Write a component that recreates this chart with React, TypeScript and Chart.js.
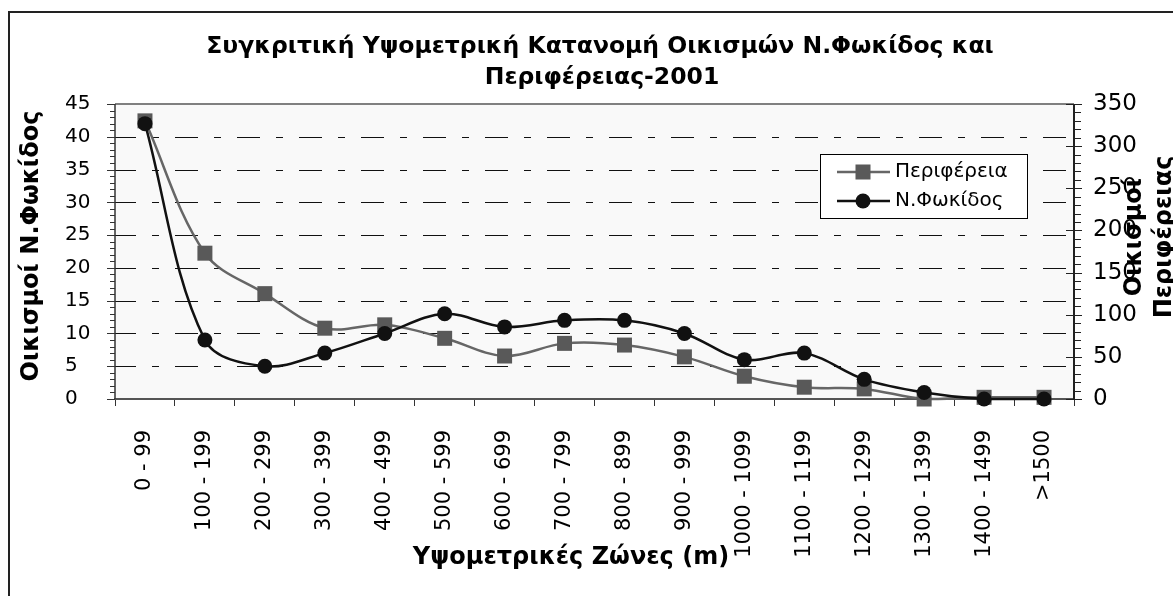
import React, { useEffect, useRef } from 'react';
import { Chart, registerables } from 'chart.js';

Chart.register(...registerables);

const categories = [
  '0 - 99', '100 - 199', '200 - 299', '300 - 399', '400 - 499', '500 - 599',
  '600 - 699', '700 - 799', '800 - 899', '900 - 999', '1000 - 1099',
  '1100 - 1199', '1200 - 1299', '1300 - 1399', '1400 - 1499', '>1500',
];
const peripheriaValues = [330, 173, 125, 84, 88, 72, 51, 66, 64, 50, 27, 14, 12, 0, 2, 2];
const fokidosValues = [42, 9, 5, 7, 10, 13, 11, 12, 12, 10, 6, 7, 3, 1, 0, 0];
const seriesNames = ['Περιφέρεια', 'Ν.Φωκίδος'];
const leftAxisRange = [0, 45, 5];
const rightAxisRange = [0, 350, 50];
const titleLines = ['Συγκριτική Υψομετρική Κατανομή Οικισμών Ν.Φωκίδος και', 'Περιφέρειας-2001'];
const leftAxisTitle = 'Οικισμοί Ν.Φωκίδος';
const rightAxisTitle = ['Οικισμοί', 'Περιφέρειας'];
const xAxisTitle = 'Υψομετρικές Ζώνες (m)';

const FONT = "'DejaVu Sans', Verdana, sans-serif";
const GRAY_LINE = '#666666';
const GRAY_MARK = '#595959';
const BLACK = '#111111';

export default function App() {
  const ref = useRef<HTMLCanvasElement>(null);

  useEffect(() => {
    const canvas = ref.current;
    if (!canvas) return;

    const line = (ctx: CanvasRenderingContext2D, x1: number, y1: number, x2: number, y2: number) => {
      ctx.beginPath();
      ctx.moveTo(x1, y1);
      ctx.lineTo(x2, y2);
      ctx.stroke();
    };

    const decor = {
      id: 'decor',
      beforeDraw(chart: any) {
        const { ctx, chartArea: a, width, height } = chart;
        ctx.save();
        ctx.fillStyle = '#ffffff';
        ctx.fillRect(0, 0, width, height);
        ctx.fillStyle = '#222222';
        ctx.fillRect(0, 0, width, 2);
        ctx.fillRect(0, 0, 2, height);
        ctx.fillStyle = '#f9f9f9';
        ctx.fillRect(a.left, a.top, a.right - a.left, a.bottom - a.top);
        ctx.restore();
      },
      beforeDatasetsDraw(chart: any) {
        const { ctx, chartArea: a, scales } = chart;
        const y = scales.y;
        const y1 = scales.y1;
        ctx.save();
        ctx.strokeStyle = '#111111';
        ctx.lineWidth = 1;
        ctx.setLineDash([23, 16, 7, 16]);
        ctx.lineDashOffset = 2;
        for (const t of y.ticks) {
          if (t.value <= leftAxisRange[0] || t.value >= leftAxisRange[1]) continue;
          const py = Math.round(y.getPixelForValue(t.value)) + 0.5;
          line(ctx, a.left, py, a.right, py);
        }
        ctx.setLineDash([]);
        ctx.strokeStyle = '#808080';
        ctx.lineWidth = 2;
        line(ctx, a.left, a.top, a.right, a.top);
        ctx.strokeStyle = '#555555';
        ctx.lineWidth = 2;
        line(ctx, a.left - 1, a.bottom, a.right + 1, a.bottom);
        ctx.strokeStyle = '#333333';
        ctx.lineWidth = 1.5;
        line(ctx, a.left, a.top, a.left, a.bottom);
        ctx.lineWidth = 1;
        for (let v = leftAxisRange[0]; v <= leftAxisRange[1]; v += 1) {
          const py = Math.round(y.getPixelForValue(v)) + 0.5;
          const len = v % leftAxisRange[2] === 0 ? 8 : 5;
          line(ctx, a.left - len, py, a.left, py);
        }
        ctx.strokeStyle = '#222222';
        ctx.lineWidth = 2;
        line(ctx, a.right, a.top, a.right, a.bottom);
        ctx.lineWidth = 1;
        for (let v = rightAxisRange[0]; v <= rightAxisRange[1]; v += 10) {
          const py = Math.round(y1.getPixelForValue(v)) + 0.5;
          if (v % rightAxisRange[2] === 0) line(ctx, a.right - 8, py, a.right + 8, py);
          else line(ctx, a.right, py, a.right + 7, py);
        }
        ctx.restore();
      },
      afterDraw(chart: any) {
        const { ctx } = chart;
        ctx.save();
        ctx.fillStyle = '#000000';
        ctx.textAlign = 'center';
        ctx.textBaseline = 'middle';
        ctx.font = `bold 23.5px ${FONT}`;
        ctx.fillText(titleLines[0], 592, 36);
        ctx.fillText(titleLines[1], 594, 67);
        ctx.font = `bold 24px ${FONT}`;
        ctx.fillText(xAxisTitle, 563, 547);
        ctx.save();
        ctx.translate(24, 235);
        ctx.rotate(-Math.PI / 2);
        ctx.fillText(leftAxisTitle, 0, 0);
        ctx.restore();
        rightAxisTitle.forEach((t, i) => {
          ctx.save();
          ctx.translate(1127 + i * 30, 226);
          ctx.rotate(-Math.PI / 2);
          ctx.fillText(t, 0, 0);
          ctx.restore();
        });
        const lx = 812, ly = 143, lw = 207, lh = 64;
        ctx.fillStyle = '#ffffff';
        ctx.fillRect(lx, ly, lw, lh);
        ctx.strokeStyle = '#000000';
        ctx.lineWidth = 1;
        ctx.strokeRect(lx + 0.5, ly + 0.5, lw, lh);
        const rows = [ly + 18, ly + 47];
        ctx.font = `20px ${FONT}`;
        ctx.textAlign = 'left';
        ctx.strokeStyle = GRAY_LINE;
        ctx.lineWidth = 2.5;
        line(ctx, 829, rows[0], 882, rows[0]);
        ctx.fillStyle = GRAY_MARK;
        ctx.fillRect(855 - 7.5, rows[0] - 7.5, 15, 15);
        ctx.fillStyle = '#000000';
        ctx.fillText(seriesNames[0], 887, rows[0]);
        ctx.strokeStyle = BLACK;
        line(ctx, 829, rows[1], 882, rows[1]);
        ctx.fillStyle = BLACK;
        ctx.beginPath();
        ctx.arc(855, rows[1], 7.5, 0, Math.PI * 2);
        ctx.fill();
        ctx.fillStyle = '#000000';
        ctx.fillText(seriesNames[1], 887, rows[1]);
        ctx.restore();
      },
    };

    const chart = new Chart(canvas, {
      type: 'line',
      data: {
        labels: categories,
        datasets: [
          {
            label: seriesNames[0],
            data: peripheriaValues,
            yAxisID: 'y1',
            borderColor: GRAY_LINE,
            borderWidth: 2.5,
            backgroundColor: GRAY_MARK,
            pointStyle: 'rect',
            pointRadius: 10.6,
            pointBackgroundColor: GRAY_MARK,
            pointBorderColor: GRAY_MARK,
            pointBorderWidth: 0,
            tension: 0.35,
            order: 1,
            clip: false,
          },
          {
            label: seriesNames[1],
            data: fokidosValues,
            yAxisID: 'y',
            borderColor: BLACK,
            borderWidth: 2.5,
            backgroundColor: BLACK,
            pointStyle: 'circle',
            pointRadius: 7.5,
            pointBackgroundColor: BLACK,
            pointBorderColor: BLACK,
            pointBorderWidth: 0,
            tension: 0.35,
            order: 0,
            clip: false,
          },
        ],
      },
      options: {
        responsive: false,
        animation: false,
        events: [],
        layout: { padding: { left: 57, top: 93, right: 0, bottom: 0 } },
        plugins: {
          legend: { display: false },
          title: { display: false },
          tooltip: { enabled: false },
        },
        scales: {
          x: {
            type: 'category',
            offset: true,
            grid: {
              display: true,
              offset: true,
              drawOnChartArea: false,
              drawTicks: true,
              tickLength: 7,
              color: '#333333',
              lineWidth: 1,
            },
            border: { display: false },
            ticks: {
              autoSkip: false,
              minRotation: 90,
              maxRotation: 90,
              padding: 24,
              color: '#000000',
              font: { family: FONT, size: 21 },
            },
            afterFit(scale: any) {
              scale.height = 197;
            },
          },
          y: {
            position: 'left',
            min: leftAxisRange[0],
            max: leftAxisRange[1],
            grid: { display: false, drawTicks: false },
            border: { display: false },
            ticks: {
              stepSize: leftAxisRange[2],
              crossAlign: 'far',
              padding: 0,
              color: '#000000',
              font: { family: FONT, size: 20 },
            },
            afterFit(scale: any) {
              scale.width = 50;
            },
          },
          y1: {
            position: 'right',
            min: rightAxisRange[0],
            max: rightAxisRange[1],
            grid: { display: false, drawTicks: false },
            border: { display: false },
            ticks: {
              stepSize: rightAxisRange[2],
              padding: 19,
              color: '#000000',
              font: { family: FONT, size: 23 },
            },
            afterFit(scale: any) {
              scale.width = 99;
            },
          },
        },
      },
      plugins: [decor],
    } as any);

    return () => chart.destroy();
  }, []);

  return (
    <div style={{ position: 'absolute', left: 8, top: 11, width: 1165, height: 585 }}>
      <canvas ref={ref} width={1165} height={585} style={{ display: 'block' }} />
    </div>
  );
}
